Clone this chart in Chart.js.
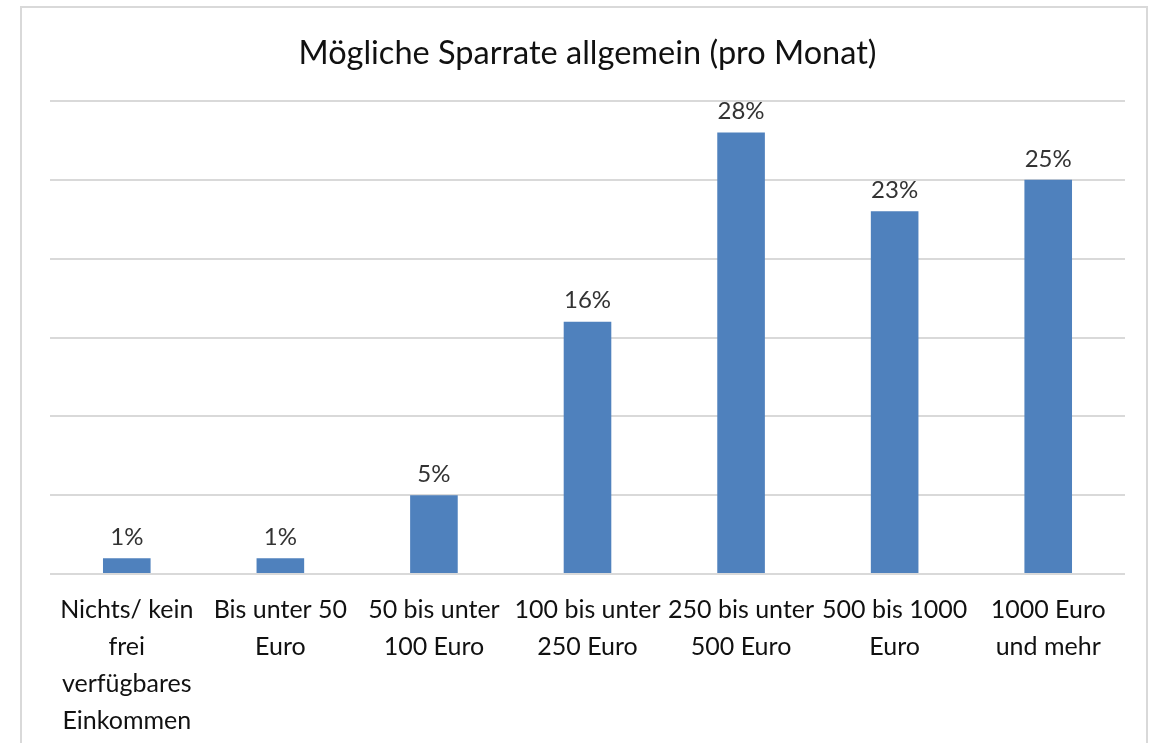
<!DOCTYPE html>
<html>
<head>
<meta charset="utf-8">
<script src="https://cdn.jsdelivr.net/npm/chart.js@4.4.1/dist/chart.umd.min.js"></script>
<style>
  html, body { margin: 0; padding: 0; background: #fff; }
  body { width: 1158px; height: 743px; position: relative; overflow: hidden; }
  #frame {
    position: absolute; left: 20px; top: 6px; width: 1128px; height: 800px;
    border: 2px solid #d9d9d9; box-sizing: border-box;
  }
  #wrap { position: absolute; left: 0; top: 0; width: 1158px; height: 743px; }
</style>
</head>
<body>
<div id="frame"></div>
<div id="wrap"><canvas id="chart"></canvas></div>
<script>
const categories = [
  ["Nichts/ kein", "frei", "verfügbares", "Einkommen"],
  ["Bis unter 50", "Euro"],
  ["50 bis unter", "100 Euro"],
  ["100 bis unter", "250 Euro"],
  ["250 bis unter", "500 Euro"],
  ["500 bis 1000", "Euro"],
  ["1000 Euro", "und mehr"],
];
const shares = [1, 1, 5, 16, 28, 23, 25];
const chartTitle = "Mögliche Sparrate allgemein (pro Monat)";

const FONT = "Lato, 'Open Sans', sans-serif";

// Prozentwerte über den Balken
const barLabels = {
  id: "barLabels",
  afterDatasetsDraw(chart) {
    const ctx = chart.ctx;
    const meta = chart.getDatasetMeta(0);
    ctx.save();
    ctx.font = "24px " + FONT;
    ctx.fillStyle = "#333333";
    ctx.textAlign = "center";
    ctx.textBaseline = "bottom";
    meta.data.forEach((bar, i) => {
      ctx.fillText(shares[i] + "%", bar.x, bar.y - 9);
    });
    ctx.restore();
  },
};

document.addEventListener("DOMContentLoaded", () => {
  const ctx = document.getElementById("chart").getContext("2d");
  new Chart(ctx, {
    type: "bar",
    data: {
      labels: categories,
      datasets: [
        {
          data: shares,
          backgroundColor: "#4f81bd",
          barPercentage: 0.31,
          categoryPercentage: 1,
        },
      ],
    },
    options: {
      responsive: true,
      maintainAspectRatio: false,
      animation: false,
      layout: { padding: { left: 50, right: 33, top: 0, bottom: 0 } },
      plugins: {
        legend: { display: false },
        tooltip: { enabled: false },
        title: {
          display: true,
          text: chartTitle,
          color: "#111111",
          font: { family: FONT, size: 32.5, weight: "normal" },
          padding: { top: 34, bottom: 28 },
        },
      },
      scales: {
        x: {
          grid: { display: false, drawTicks: false },
          border: { display: false },
          ticks: {
            color: "#111111",
            font: { family: FONT, size: 25, lineHeight: 1.48 },
            padding: 17,
            maxRotation: 0,
            autoSkip: false,
          },
          afterFit(scale) {
            scale.height = 169;
          },
        },
        y: {
          min: 0,
          max: 30,
          display: true,
          ticks: { display: false, stepSize: 5 },
          grid: { color: "#d9d9d9", lineWidth: 2, drawTicks: false },
          border: { display: false },
          afterFit(scale) {
            scale.width = 0;
          },
        },
      },
    },
    plugins: [barLabels],
  });
});
</script>
</body>
</html>
